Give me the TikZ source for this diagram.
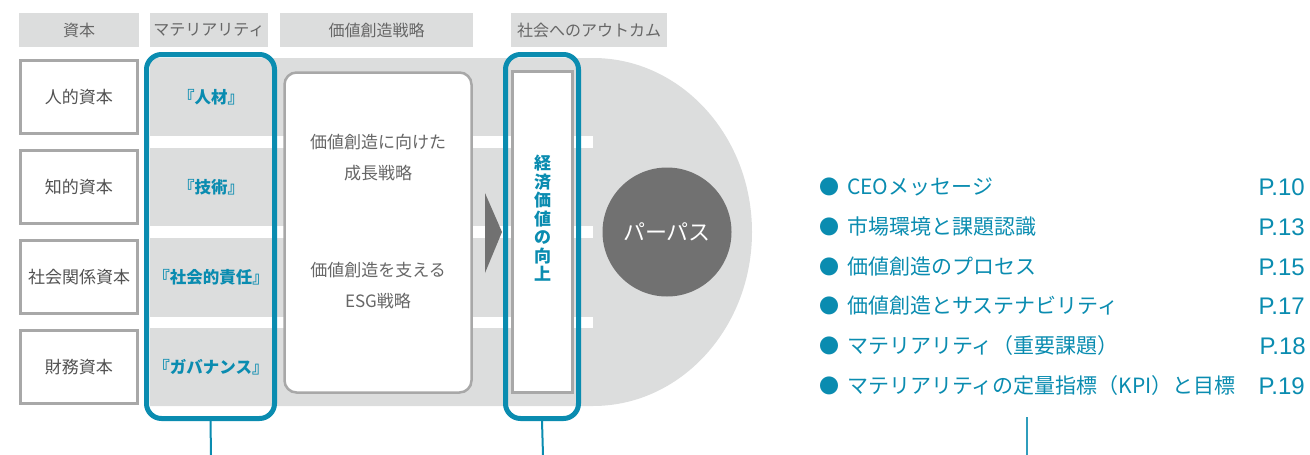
\documentclass[tikz,border=0pt]{standalone}
\usepackage{fontspec}
\setmainfont{Noto Sans CJK JP}
\newfontfamily\pagefont{Liberation Sans}
\usetikzlibrary{positioning}

\definecolor{dpblue}{HTML}{0A8CB0}
\definecolor{bandgray}{HTML}{DCDDDD}
\definecolor{rimgray}{HTML}{A8A8A8}
\definecolor{txtgray}{HTML}{666666}
\definecolor{dotgray}{HTML}{717171}

\tikzset{
  head/.style={fill=bandgray, text=txtgray, minimum height=34pt, inner sep=0pt,
    font=\fontsize{16}{18}\selectfont},
  capbox/.style={draw=rimgray, line width=3pt, fill=white, minimum width=117pt,
    minimum height=73pt, inner sep=0pt, text=txtgray!80!black,
    font=\fontsize{17}{19}\selectfont},
  matlabel/.style={text=dpblue, font=\bfseries\fontsize{16.5}{18}\selectfont},
  frame/.style={draw=dpblue, line width=5pt, rounded corners=15pt, inner sep=0pt},
  item/.style={anchor=west, inner sep=0pt, text=dpblue, font=\fontsize{21}{23}\selectfont},
  page/.style={anchor=east, inner sep=0pt, text=dpblue, font=\pagefont\fontsize{24}{26}\selectfont}
}
\newcommand{\dotmark}{{\fontsize{20}{20}\selectfont ●}\hspace*{8pt}}

\begin{document}
\begin{tikzpicture}[x=1pt,y=-1pt,node distance=90pt,on grid]
    \useasboundingbox (0,0) rectangle (1310,455);

    % column heads
    \node[head, minimum width=120pt] (hCap) at (79,30) {資本};
    \node[head, minimum width=118pt] (hMat) at (209,30) {マテリアリティ};
    \node[head, minimum width=193pt] (hStr) at (376.5,30) {価値創造戦略};
    \node[head, minimum width=156pt] (hOut) at (589,30) {社会へのアウトカム};

    % grey band with round end
    \fill[bandgray] (150,58) -- (593,58)
      arc[start angle=90, end angle=-90, x radius=159pt, y radius=174pt]
      -- (150,406) -- cycle;
    \fill[white] (150,136) rectangle (593,148);
    \fill[white] (150,226) rectangle (593,238);
    \fill[white] (150,317) rectangle (593,328);

    % capitals
    \node[capbox] (hum) at (79,97) {人的資本};
    \node[capbox] (intel) [below=of hum] {知的資本};
    \node[capbox] (soc) [below=of intel] {社会関係資本};
    \node[capbox] (fin) [below=of soc] {財務資本};

    % materiality
    \node[matlabel] (mHum) [right=132pt of hum] {『人材』};
    \node[matlabel] (mTec) [right=132pt of intel] {『技術』};
    \node[matlabel] (mSoc) [right=132pt of soc] {『社会的責任』};
    \node[matlabel] (mGov) [right=132pt of fin] {『ガバナンス』};

    % strategy
    \node[draw=rimgray, line width=2.5pt, fill=white, rounded corners=12pt,
      minimum width=187pt, minimum height=320pt, inner sep=0pt] (strat) at (378,232.5) {};
    \node[text=txtgray, align=center, font=\fontsize{17}{31}\selectfont]
      (growth) at (378,157.5) {価値創造に向けた\\成長戦略};
    \node[text=txtgray, align=center, font=\fontsize{17}{31}\selectfont]
      (esg) at (378,286) {価値創造を支える\\ESG戦略};
    \fill[dotgray] (485,193) -- (502,232) -- (485,273) -- cycle;

    % outcome
    \node[draw=rimgray, line width=2.5pt, fill=white, minimum width=60pt,
      minimum height=321pt, inner sep=0pt] (econ) at (542.5,232) {};
    \node[text=dpblue, align=center, font=\bfseries\fontsize{17}{18.5}\selectfont]
      (econTxt) at (542.5,218.5) {経\\済\\価\\値\\の\\向\\上};
    \node[circle, fill=dotgray, minimum size=129pt, inner sep=0pt, text=white,
      font=\fontsize{22}{24}\selectfont] (purpose) at (667,232) {パーパス};

    % blue frames and leads
    \node[frame, minimum width=128pt, minimum height=364pt] (mat) at (210.5,236.5) {};
    \node[frame, minimum width=73pt, minimum height=364pt] (out) at (542,236.5) {};
    \coordinate (matFoot) at (211,455);
    \coordinate (outFoot) at (543,455);
    \coordinate (listTop) at (1027,417);
    \coordinate (listFoot) at (1027,455);
    \draw[dpblue, line width=2pt] (mat.south) -- (matFoot);
    \draw[dpblue, line width=2pt] (out.south) -- (outFoot);
    \draw[dpblue!85, line width=2pt] (listTop) -- (listFoot);

    % page list
    \node[item] (l1) at (819,187) {\dotmark CEOメッセージ};
    \node[item] (l2) at (819,227) {\dotmark 市場環境と課題認識};
    \node[item] (l3) at (819,267) {\dotmark 価値創造のプロセス};
    \node[item] (l4) at (819,306) {\dotmark 価値創造とサステナビリティ};
    \node[item] (l5) at (819,346) {\dotmark マテリアリティ（重要課題）};
    \node[item] (l6) at (819,386) {\dotmark マテリアリティの定量指標（KPI）と目標};
    \node[page] (p1) at (1305,187) {P.10};
    \node[page] (p2) at (1305,227) {P.13};
    \node[page] (p3) at (1305,267) {P.15};
    \node[page] (p4) at (1305,306) {P.17};
    \node[page] (p5) at (1306,346) {P.18};
    \node[page] (p6) at (1305,386) {P.19};

\end{tikzpicture}
\end{document}
